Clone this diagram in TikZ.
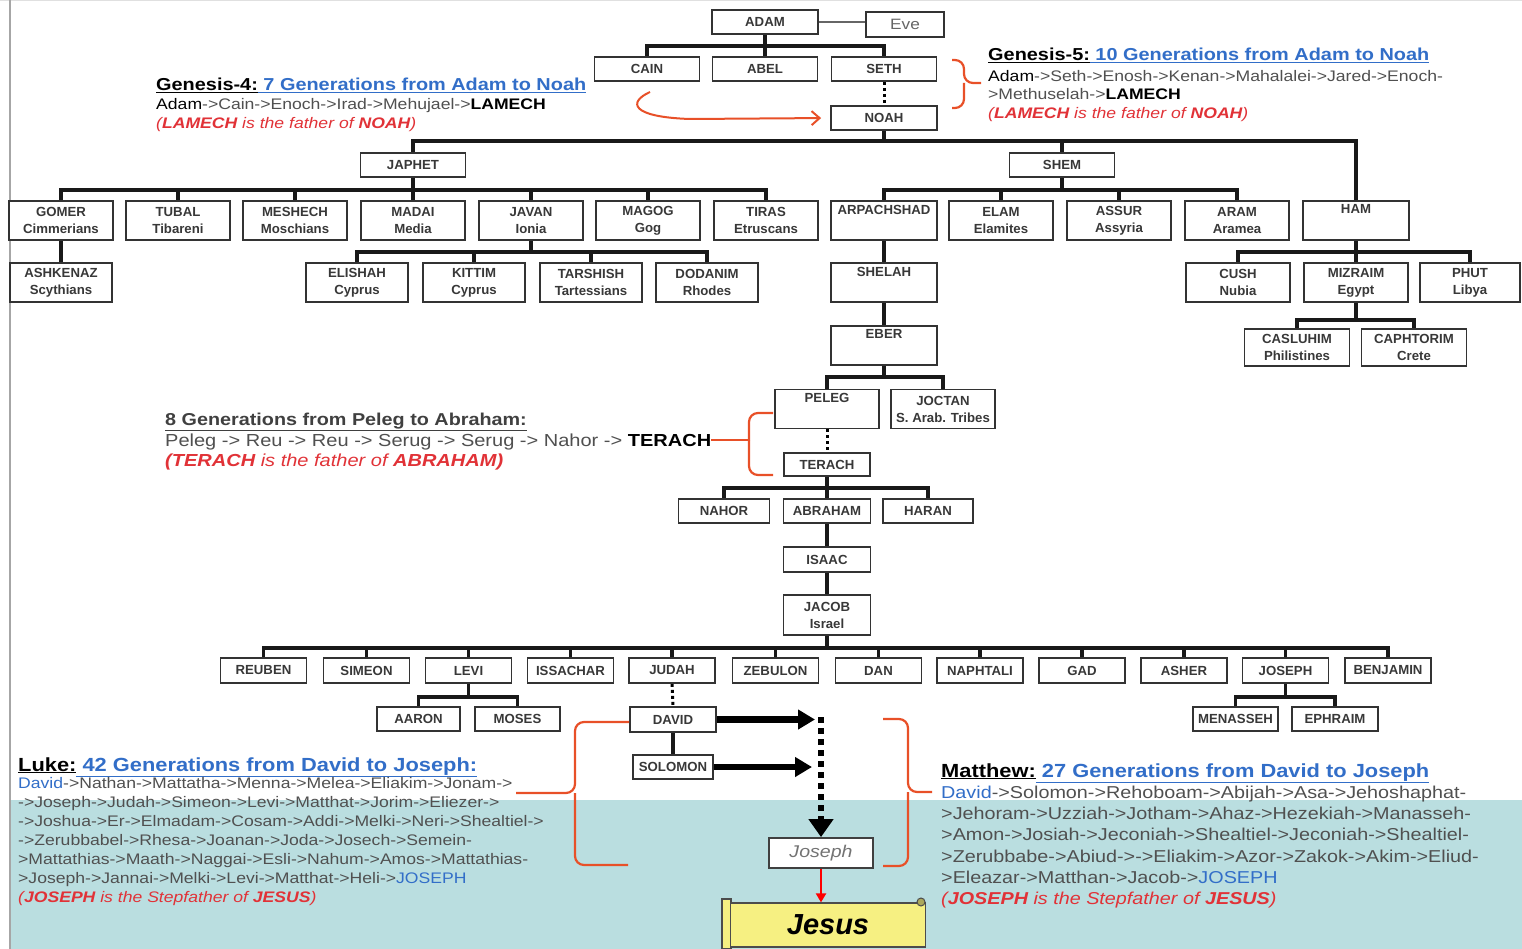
\documentclass[tikz,border=0pt]{standalone}
\usepackage{fontspec}
\setmainfont{Liberation Sans}
\newfontfamily\wf[FakeStretch=1.15]{Liberation Sans}
\usetikzlibrary{arrows.meta}
\pgfdeclarelayer{back}
\pgfdeclarelayer{bg}
\pgfsetlayers{back,bg,main}
\definecolor{tealbg}{RGB}{186,222,224}
\definecolor{lnk}{RGB}{50,110,200}
\definecolor{rd}{RGB}{225,50,55}
\definecolor{gr}{RGB}{80,80,80}
\definecolor{brc}{RGB}{232,80,40}
\definecolor{scrolly}{RGB}{246,240,130}
\newcommand\kin[5]{% parent, bus y, first child, last child, all children
  \draw[conn] (#1.south) -- (#1.south |- 0,#2);
  \draw[conn] (#3.north |- 0,#2) -- (#4.north |- 0,#2);
  \foreach \c in {#5} {\draw[conn] (\c.north) -- (\c.north |- 0,#2);}
}
\begin{document}
\begin{tikzpicture}[x=1pt,y=-1pt,
  bx/.style={draw=black!80, line width=1.8pt, fill=white, inner sep=0pt, align=center,
     font=\bfseries\fontsize{13.2}{17}\selectfont, text=black!78, minimum height=24pt, minimum width=#1},
  bx/.default=105pt,
  tb/.style={bx=#1, minimum height=39pt},
  tb/.default=104pt,
  conn/.style={line width=3.3pt, line cap=rect, black!90},
  dots/.style={line width=3pt, dash pattern=on 3pt off 3pt, black},
  brace/.style={draw=brc, line width=2.2pt, rounded corners=9pt},
  txt/.style={anchor=base west, inner sep=0pt},
  ttl/.style={txt, font=\wf\bfseries\fontsize{17.3}{20}\selectfont},
  ln/.style={txt, font=\wf\fontsize{15.3}{19}\selectfont, text=gr},
  rln/.style={txt, font=\wf\itshape\fontsize{15.3}{19}\selectfont, text=rd},
  bigttl/.style={txt, font=\wf\bfseries\fontsize{19}{22}\selectfont},
  mln/.style={txt, font=\wf\fontsize{17.2}{21}\selectfont, text=gr},
  mrln/.style={txt, font=\wf\itshape\fontsize{17.2}{21}\selectfont, text=rd},
  pln/.style={txt, font=\wf\fontsize{17.4}{20}\selectfont, text=gr},
  prln/.style={txt, font=\wf\itshape\fontsize{17.4}{20}\selectfont, text=rd}
]
\useasboundingbox (0,0) rectangle (1522,949);
\begin{pgfonlayer}{back}
  \fill[white] (0,0) rectangle (1522,949);
  \fill[tealbg] (11,800) rectangle (1522,949);
  \draw[black!12, line width=1pt] (0,1) -- (1522,1);
  \draw[black!35, line width=2pt] (10,0) -- (10,949);
\end{pgfonlayer}

% ---------- boxes ----------
\node[bx=106pt] (adam) at (765,22) {ADAM};
\node[bx=78pt, minimum height=25pt, font=\wf\fontsize{15}{16}\selectfont, text=black!60] (eve) at (905,24.5) {Eve};
\node[bx] (cain) at (647,69) {CAIN};
\node[bx] (abel) at (765,69) {ABEL};
\node[bx] (seth) at (884,69) {SETH};
\node[bx=106pt] (noah) at (884,118) {NOAH};
\node[bx] (japhet) at (413,165) {JAPHET};
\node[bx] (shem) at (1062,165) {SHEM};

\node[tb] (gomer) at (61,220.5) {GOMER\\Cimmerians};
\node[tb] (tubal) at (178,220.5) {TUBAL\\Tibareni};
\node[tb] (meshech) at (295,220.5) {MESHECH\\Moschians};
\node[tb] (madai) at (413,220.5) {MADAI\\Media};
\node[tb] (javan) at (531,220.5) {JAVAN\\Ionia};
\node[tb] (magog) at (648,220.5) {MAGOG\\Gog};
\node[tb] (tiras) at (766,220.5) {TIRAS\\Etruscans};
\node[tb=106pt] (arpachshad) at (884,220.5) {ARPACHSHAD\\\strut};
\node[tb] (elam) at (1001,220.5) {ELAM\\Elamites};
\node[tb] (assur) at (1119,220.5) {ASSUR\\Assyria};
\node[tb] (aram) at (1237,220.5) {ARAM\\Aramea};
\node[tb=106pt] (ham) at (1356,220.5) {HAM\\\strut};

\node[tb=102pt] (ashkenaz) at (61,282.5) {ASHKENAZ\\Scythians};
\node[tb=102pt] (elishah) at (357,282.5) {ELISHAH\\Cyprus};
\node[tb=102pt] (kittim) at (474,282.5) {KITTIM\\Cyprus};
\node[tb=102pt] (tarshish) at (591,282.5) {TARSHISH\\Tartessians};
\node[tb=102pt] (dodanim) at (707,282.5) {DODANIM\\Rhodes};
\node[tb=106pt] (shelah) at (884,282.5) {SHELAH\\\strut};
\node[tb] (cush) at (1238,282.5) {CUSH\\Nubia};
\node[tb] (mizraim) at (1356,282.5) {MIZRAIM\\Egypt};
\node[tb=100pt] (phut) at (1470,282.5) {PHUT\\Libya};

\node[tb=106pt] (eber) at (884,345.5) {EBER\\\strut};
\node[tb=105pt, minimum height=37pt] (casluhim) at (1297,347.5) {CASLUHIM\\Philistines};
\node[tb=105pt, minimum height=37pt] (caphtorim) at (1414,347.5) {CAPHTORIM\\Crete};

\node[tb] (peleg) at (827,409) {PELEG\\\strut};
\node[tb] (joctan) at (943,409) {JOCTAN\\S. Arab. Tribes};
\node[bx=86pt, minimum height=23pt] (terach) at (827,464.5) {TERACH};
\node[bx=91pt] (nahor) at (724,511) {NAHOR};
\node[bx=87pt] (abraham) at (827,511) {ABRAHAM};
\node[bx=90pt] (haran) at (928,511) {HARAN};
\node[bx=87pt, minimum height=25pt] (isaac) at (827,559.5) {ISAAC};
\node[tb=87pt, minimum height=40pt] (jacob) at (827,615) {JACOB\\Israel};

\foreach \n/\t/\x in {reuben/REUBEN/263.5, simeon/SIMEON/366.5, levi/LEVI/468.5,
  issachar/ISSACHAR/570.5, judah/JUDAH/672, zebulon/ZEBULON/775.5, dan/DAN/878.5,
  naphtali/NAPHTALI/980, gad/GAD/1082, asher/ASHER/1184, joseph/JOSEPH/1285.5,
  benjamin/BENJAMIN/1388}
  \node[bx=86pt, minimum height=25pt] (\n) at (\x,670.5) {\t};

\node[bx=83pt] (aaron) at (418.5,719) {AARON};
\node[bx=85pt] (moses) at (517.5,719) {MOSES};
\node[bx=85pt] (menasseh) at (1235.5,719) {MENASSEH};
\node[bx=86pt] (ephraim) at (1335,719) {EPHRAIM};
\node[bx=86pt, minimum height=25pt] (david) at (673,719.5) {DAVID};
\node[bx=80pt, minimum height=24pt] (solomon) at (673,767) {SOLOMON};

\node[bx=104pt, minimum height=30pt, draw=black!75, font=\wf\itshape\fontsize{17}{18}\selectfont, text=black!55] (jos) at (821,853) {Joseph};

% scroll
\draw[fill=scrolly, draw=black!70, line width=1.2pt] (722,899) rectangle (731,949);
\node[draw=black!70, line width=1.2pt, fill=scrolly, minimum width=195pt, minimum height=44pt,
  inner sep=0pt, font=\bfseries\itshape\fontsize{29}{30}\selectfont] (jesus) at (828,925) {Jesus};
\draw[fill=scrolly!70!black, draw=black!70, line width=1pt] (921,902) circle (4);

% ---------- connectors ----------
\begin{pgfonlayer}{bg}
  \draw[black!60, line width=1.2pt] (adam.east) -- (eve.west |- adam.east);
  \kin{adam}{46}{cain}{seth}{cain,abel,seth}
  \kin{noah}{141}{japhet}{ham}{japhet,shem,ham}
  \kin{japhet}{190}{gomer}{tiras}{gomer,tubal,meshech,madai,javan,magog,tiras}
  \kin{shem}{190}{arpachshad}{aram}{arpachshad,elam,assur,aram}
  \draw[conn] (gomer.south) -- (ashkenaz.north);
  \kin{javan}{252}{elishah}{dodanim}{elishah,kittim,tarshish,dodanim}
  \draw[conn] (arpachshad.south) -- (shelah.north);
  \draw[conn] (shelah.south) -- (eber.north);
  \kin{ham}{252}{cush}{phut}{cush,mizraim,phut}
  \kin{mizraim}{320}{casluhim}{caphtorim}{casluhim,caphtorim}
  \kin{eber}{377}{peleg}{joctan}{peleg,joctan}
  \kin{terach}{488}{nahor}{haran}{nahor,abraham,haran}
  \draw[conn] (abraham.south) -- (isaac.north);
  \draw[conn] (isaac.south) -- (jacob.north);
  \kin{jacob}{648}{reuben}{benjamin}{reuben,simeon,levi,issachar,judah,zebulon,dan,naphtali,gad,asher,joseph,benjamin}
  \kin{levi}{697}{aaron}{moses}{aaron,moses}
  \kin{joseph}{697}{menasseh}{ephraim}{menasseh,ephraim}
  \draw[conn] (david.south) -- (solomon.north);
  \draw[dots] (seth.south) -- (noah.north);
  \draw[dots] (peleg.south) -- (terach.north);
  \draw[dots] (judah.south) -- (david.north);
\end{pgfonlayer}

% thick arrows
\coordinate (dtip) at (815,719.5);
\coordinate (stip) at (812,767);
\coordinate (dtop) at (821,717);
\draw[line width=6.5pt, -{Triangle[width=19pt,length=17pt]}] (david.east) -- (dtip);
\draw[line width=6.5pt, -{Triangle[width=19pt,length=17pt]}] (solomon.east) -- (stip);
\draw[line width=6pt, dash pattern=on 6pt off 5pt, -{Triangle[width=24pt,length=18pt]}] (dtop) -- (dtop |- jos.north);
\draw[red, line width=2pt, -{Triangle[width=10pt,length=9pt]}] (jos.south) -- (jos.south |- jesus.north);

% ---------- Genesis 4 ----------
\node[ttl] (g4t) at (156,91) {\underline{Genesis-4:}\textcolor{lnk}{\underline{\ 7 Generations from Adam to Noah}}};
\node[ln] (g4a) at (156,109.5) {\textcolor{black}{Adam}->Cain->Enoch->Irad->Mehujael->\textcolor{black}{\bfseries LAMECH}};
\node[rln] (g4b) at (156,128.5) {({\bfseries LAMECH} is the father of {\bfseries NOAH})};
\draw[draw=brc, line width=2pt, shorten >=9pt, -{Straight Barb[length=8pt,width=14pt]}]
  (650,92) .. controls (628,102) and (630,117) .. (690,119) -- (noah.west);

% ---------- Genesis 5 ----------
\node[ttl] (g5t) at (988,61) {\underline{Genesis-5:}\textcolor{lnk}{\underline{\ 10 Generations from Adam to Noah}}};
\node[ln] (g5a) at (988,81.5) {\textcolor{black}{Adam}->Seth->Enosh->Kenan->Mahalalei->Jared->Enoch-};
\node[ln] (g5b) at (988,99.5) {>Methuselah->\textcolor{black}{\bfseries LAMECH}};
\node[rln] (g5c) at (988,118.5) {({\bfseries LAMECH} is the father of {\bfseries NOAH})};
\draw[brace] (952,60) -| (964,83) -- (981,83);
\draw[brace] (964,83) |- (952,108);

% ---------- Peleg ----------
\node[txt, font=\wf\bfseries\fontsize{17.2}{20}\selectfont, text=black!75] (pt) at (165,425) {\underline{8 Generations from Peleg to Abraham:}};
\node[pln] (pa) at (165,446) {Peleg -> Reu -> Reu -> Serug -> Serug -> Nahor -> \textcolor{black}{\bfseries TERACH}};
\node[prln] (pb) at (165,466) {{\bfseries (TERACH} is the father of {\bfseries ABRAHAM)}};
\draw[brace] (773,413) -| (749,440);
\draw[brace] (749,440) |- (773,475);
\draw[draw=brc, line width=2.2pt] (750,440) -- (pa.east |- 0,440);

% ---------- Luke ----------
\node[bigttl] (lt) at (18,771) {\underline{Luke:}\textcolor{lnk}{\underline{\ 42 Generations from David to Joseph:}}};
\foreach \t [count=\i from 0] in {
  {\textcolor{lnk}{David}->Nathan->Mattatha->Menna->Melea->Eliakim->Jonam->},
  {->Joseph->Judah->Simeon->Levi->Matthat->Jorim->Eliezer->},
  {->Joshua->Er->Elmadam->Cosam->Addi->Melki->Neri->Shealtiel->},
  {->Zerubbabel->Rhesa->Joanan->Joda->Josech->Semein-},
  {>Mattathias->Maath->Naggai->Esli->Nahum->Amos->Mattathias-},
  {>Joseph->Jannai->Melki->Levi->Matthat->Heli->\textcolor{lnk}{JOSEPH}}}
  \node[ln] (luke\i) at (18,{788+19*\i}) {\t};
\node[rln] (luke6) at (18,902) {({\bfseries JOSEPH} is the Stepfather of {\bfseries JESUS})};
\draw[brace] (david.west |- 0,722) -| (575,793) -- (516,793);
\draw[brace] (575,793) |- (628,865);

% ---------- Matthew ----------
\node[bigttl] (mt) at (941,777) {\underline{Matthew:}\textcolor{lnk}{\underline{\ 27 Generations from David to Joseph}}};
\foreach \t [count=\i from 0] in {
  {\textcolor{lnk}{David}->Solomon->Rehoboam->Abijah->Asa->Jehoshaphat-},
  {>Jehoram->Uzziah->Jotham->Ahaz->Hezekiah->Manasseh-},
  {>Amon->Josiah->Jeconiah->Shealtiel->Jeconiah->Shealtiel-},
  {>Zerubbabe->Abiud->->Eliakim->Azor->Zakok->Akim->Eliud-},
  {>Eleazar->Matthan->Jacob->\textcolor{lnk}{JOSEPH}}}
  \node[mln] (mat\i) at (941,{798.5+21.2*\i}) {\t};
\node[mrln] (mat5) at (941,904.5) {({\bfseries JOSEPH} is the Stepfather of {\bfseries JESUS})};
\draw[brace] (883,719) -| (908,792) -- (932,792);
\draw[brace] (908,792) |- (883,866);
\end{tikzpicture}
\end{document}
